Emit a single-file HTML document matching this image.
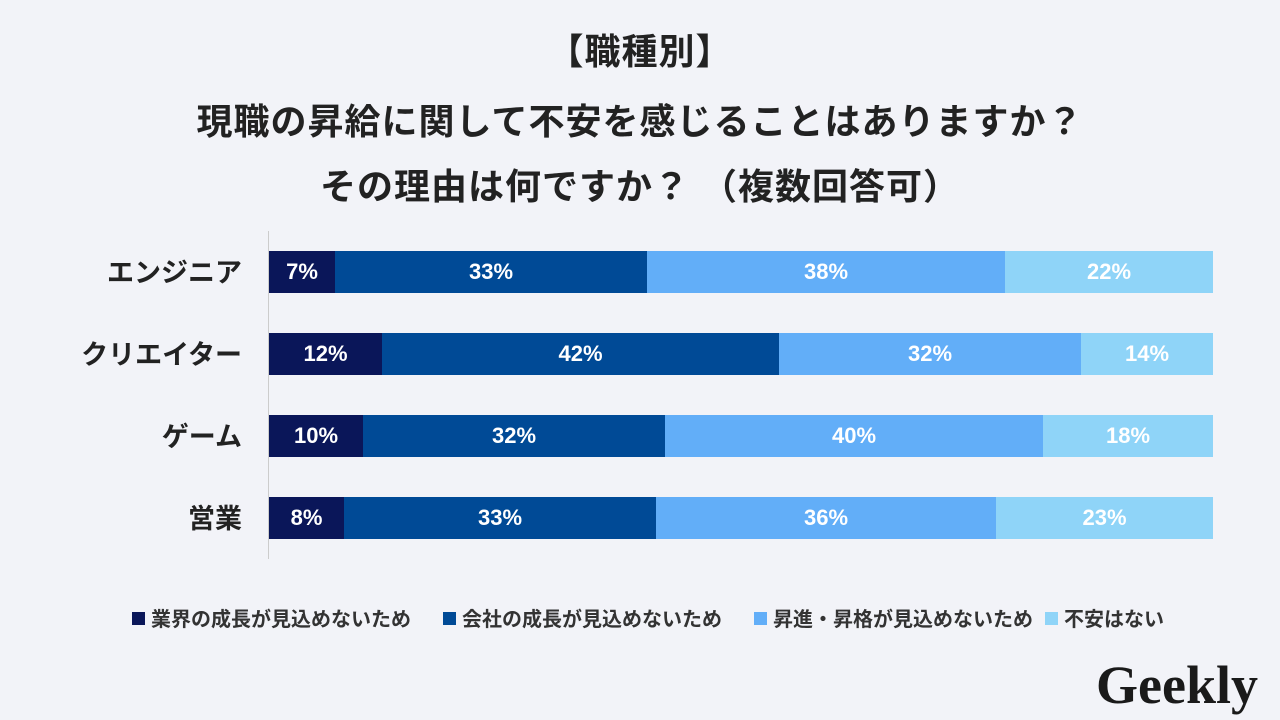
<!DOCTYPE html>
<html><head><meta charset="utf-8"><style>
body{margin:0;width:1280px;height:720px;background:#f2f3f8;position:relative;overflow:hidden;font-family:"Liberation Sans","Noto Sans CJK JP",sans-serif;color:#222;}
.t{position:absolute;left:0;width:1280px;text-align:center;font-weight:bold;font-size:36px;line-height:42px;letter-spacing:1px;}
.lab{position:absolute;right:1038px;font-weight:bold;font-size:27px;line-height:32px;text-align:right;white-space:nowrap;}
.bar{position:absolute;left:269px;height:42px;width:944px;display:flex;}
.bar div{height:100%;display:flex;align-items:center;justify-content:center;color:#fff;font-weight:bold;font-size:22px;}
.a{background:#0a1659}.b{background:#004a96}.c{background:#62aef8}.d{background:#8fd4f8}
.lg{position:absolute;top:607px;font-size:20px;line-height:26px;font-weight:bold;color:#333;white-space:nowrap;}
.lg span{display:inline-block;width:13px;height:13px;margin-right:6px;vertical-align:1px;}
</style></head><body>
<div class="t" style="top:31px">【職種別】</div>
<div class="t" style="top:101px">現職の昇給に関して不安を感じることはありますか？</div>
<div class="t" style="top:166px">その理由は何ですか？ （複数回答可）</div>
<div style="position:absolute;left:268px;top:231px;width:1px;height:328px;background:#ccc"></div>
<div class="lab" style="top:257px">エンジニア</div>
<div class="lab" style="top:339px">クリエイター</div>
<div class="lab" style="top:421px">ゲーム</div>
<div class="lab" style="top:503px">営業</div>
<div class="bar" style="top:251px"><div class="a" style="width:66px">7%</div><div class="b" style="width:312px">33%</div><div class="c" style="width:358px">38%</div><div class="d" style="width:208px">22%</div></div>
<div class="bar" style="top:333px"><div class="a" style="width:113px">12%</div><div class="b" style="width:397px">42%</div><div class="c" style="width:302px">32%</div><div class="d" style="width:132px">14%</div></div>
<div class="bar" style="top:415px"><div class="a" style="width:94px">10%</div><div class="b" style="width:302px">32%</div><div class="c" style="width:378px">40%</div><div class="d" style="width:170px">18%</div></div>
<div class="bar" style="top:497px"><div class="a" style="width:75px">8%</div><div class="b" style="width:312px">33%</div><div class="c" style="width:340px">36%</div><div class="d" style="width:217px">23%</div></div>
<div class="lg" style="left:132px"><span class="a"></span>業界の成長が見込めないため</div>
<div class="lg" style="left:443px"><span class="b"></span>会社の成長が見込めないため</div>
<div class="lg" style="left:754px"><span class="c"></span>昇進・昇格が見込めないため</div>
<div class="lg" style="left:1045px"><span class="d"></span>不安はない</div>
<div style="position:absolute;left:1096px;top:654px;font-family:'Liberation Serif',serif;font-weight:bold;font-size:54px;line-height:62px;color:#1a1a1a;">Geekly</div>
</body></html>
